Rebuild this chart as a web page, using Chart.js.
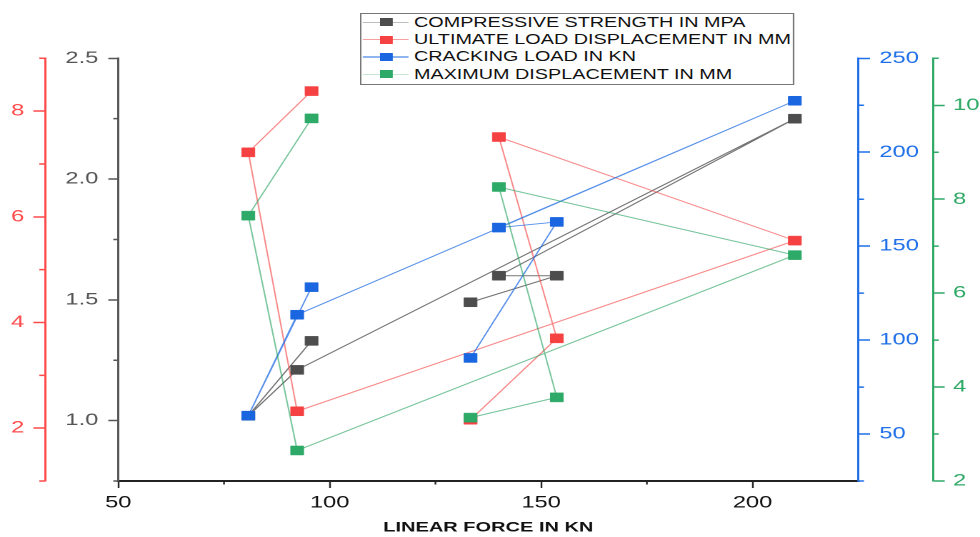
<!DOCTYPE html>
<html>
<head>
<meta charset="utf-8">
<script src="https://cdn.jsdelivr.net/npm/chart.js@4.4.1/dist/chart.umd.min.js"></script>
<style>
html, body { margin: 0; padding: 0; background: #fff; }
/* the source picture is stretched sideways, so the chart is drawn narrow and widened */
#wrap { position: relative; width: 686px; height: 537px; transform: scaleX(1.4286); transform-origin: 0 0; }
#legend { position: absolute; left: 252px; top: 13px; width: 302px; height: 70px; border: 1px solid #777; background: #fff;
  font-family: 'Liberation Sans', Arial, sans-serif; font-size: 13.85px; color: #111; }
.row { position: absolute; left: 0; width: 100%; height: 17.4px; }
.row .ln { position: absolute; left: 1px; width: 32px; height: 1.5px; top: 8px; }
.row .mk { position: absolute; left: 12.5px; width: 9px; height: 8px; top: 4.8px; }
.row .tx { position: absolute; left: 36.8px; top: 0; line-height: 17.4px; white-space: nowrap; }
</style>
</head>
<body>
<div id="wrap">
  <canvas id="grafico" width="686" height="537"></canvas>
  <div id="legend"></div>
</div>
<script>
// ===========================
// Dados
// ===========================
const linearForce   = [95.7, 80.75, 92.3, 210, 140, 153.7, 133.3];
const compStrength  = [1.33, 1.02, 1.21, 2.25, 1.60, 1.60, 1.49];
const ultimateDisp  = [8.38, 7.22, 2.32, 5.55, 7.51, 3.70, 2.16];
const crackingLoad  = [128.2, 59.8, 113.5, 227.4, 159.9, 162.9, 90.5];
const maximumDisp   = [9.72, 7.65, 2.65, 6.81, 8.26, 3.78, 3.35];

const seriesNames = [
    "COMPRESSIVE STRENGTH IN MPA",
    "ULTIMATE LOAD DISPLACEMENT IN MM",
    "CRACKING LOAD IN KN",
    "MAXIMUM DISPLACEMENT IN MM"
];

const xTicks     = [50, 100, 150, 200];
const blackTicks = [1.0, 1.5, 2.0, 2.5];
const redTicks   = [2, 4, 6, 8];
const blueTicks  = [50, 100, 150, 200, 250];
const greenTicks = [2, 4, 6, 8, 10];

const xMinor     = [75, 125, 175];
const blackMinor = [0.75, 1.25, 1.75, 2.25];
const redMinor   = [1, 3, 5, 7, 9];
const blueMinor  = [25, 75, 125, 175, 225];
const greenMinor = [3, 5, 7, 9, 11];

// ===========================
// Cores
// ===========================
const corPreto = '#4d4d4d', corVermelho = '#f54141', corAzul = '#1a66e0', corVerde = '#2eaa68';
const eixoPreto = '#555555', eixoVermelho = '#ff4a4a', eixoAzul = '#1e6fe8', eixoVerde = '#2ea865';
const linhaLegenda = ['#bdbdbd', '#f7a0a0', '#8fb5f0', '#c8e8d4'];
const FONTE = "'Liberation Sans', Arial, sans-serif";

function pontos(ys) {
    return linearForce.map((x, i) => ({ x: x, y: ys[i] }));
}

function serie(label, ys, eixo, cor, linha, ordem) {
    return {
        label: label,
        data: pontos(ys),
        yAxisID: eixo,
        showLine: true,
        borderColor: linha,
        borderWidth: 1,
        backgroundColor: cor,
        pointStyle: 'rect',
        pointRadius: 6.4,
        pointBackgroundColor: cor,
        pointBorderColor: cor,
        pointBorderWidth: 0.5,
        order: ordem
    };
}

function eixoY(pos, peso, min, max, tickVals, cor, largura, tickLen, pad, fmt) {
    return {
        type: 'linear',
        position: pos,
        weight: peso,
        min: min,
        max: max,
        afterBuildTicks: s => { s.ticks = tickVals.map(v => ({ value: v })); },
        afterFit: s => { s.width = largura; },
        ticks: {
            color: cor,
            font: { size: 16.6, family: FONTE },
            padding: pad,
            autoSkip: false,
            callback: fmt
        },
        grid: { drawOnChartArea: false, color: cor, tickLength: tickLen, tickWidth: 1.5 },
        border: { color: cor, width: 1.5 }
    };
}

// ===========================
// Ticks menores
// ===========================
const minorDefs = {
    x:      { values: xMinor,     color: '#222',       len: 3.5, w: 1.2 },
    yBlack: { values: blackMinor, color: eixoPreto,    len: 3.5, w: 1.5 },
    yRed:   { values: redMinor,   color: eixoVermelho, len: 4,   w: 1.5 },
    yBlue:  { values: blueMinor,  color: eixoAzul,     len: 4,   w: 1.5 },
    yGreen: { values: greenMinor, color: eixoVerde,    len: 4,   w: 1.5 }
};

const minorTicks = {
    id: 'minorTicks',
    afterDraw(chart) {
        const ctx = chart.ctx;
        ctx.save();
        for (const id in minorDefs) {
            const s = chart.scales[id];
            const d = minorDefs[id];
            ctx.strokeStyle = d.color;
            ctx.lineWidth = d.w;
            ctx.beginPath();
            d.values.forEach(v => {
                const p = s.getPixelForValue(v);
                if (s.isHorizontal()) {
                    ctx.moveTo(p, s.top); ctx.lineTo(p, s.top + d.len);
                } else if (s.position === 'left') {
                    ctx.moveTo(s.right, p); ctx.lineTo(s.right - d.len, p);
                } else {
                    ctx.moveTo(s.left, p); ctx.lineTo(s.left + d.len, p);
                }
            });
            ctx.stroke();
        }
        ctx.restore();
    }
};

// ===========================
// Gráfico
// ===========================
const ctx = document.getElementById('grafico').getContext('2d');

new Chart(ctx, {
    type: 'scatter',
    data: {
        datasets: [
            serie(seriesNames[0], compStrength, 'yBlack', corPreto,    'rgba(70,70,70,0.75)',    3),
            serie(seriesNames[1], ultimateDisp, 'yRed',   corVermelho, 'rgba(245,70,70,0.65)',   2),
            serie(seriesNames[2], crackingLoad, 'yBlue',  corAzul,     'rgba(30,105,225,0.75)',  1),
            serie(seriesNames[3], maximumDisp,  'yGreen', corVerde,    'rgba(45,165,100,0.65)',  0)
        ]
    },
    options: {
        responsive: false,
        animation: false,
        devicePixelRatio: 2,
        layout: { padding: { top: 58.3, left: 0, right: 0, bottom: 0 } },
        plugins: {
            legend: { display: false },
            tooltip: { enabled: false }
        },
        scales: {
            x: {
                type: 'linear',
                position: 'bottom',
                min: 50,
                max: 225,
                afterBuildTicks: s => { s.ticks = xTicks.map(v => ({ value: v })); },
                afterFit: s => { s.height = 56; },
                ticks: { color: '#111', font: { size: 16.6, family: FONTE }, padding: 5, autoSkip: false, maxRotation: 0 },
                grid: { drawOnChartArea: false, color: '#222', tickLength: 7, tickWidth: 1.2 },
                border: { color: '#222', width: 2 },
                title: {
                    display: true,
                    text: 'LINEAR FORCE IN KN',
                    color: '#111',
                    font: { size: 14, weight: 'bold', family: FONTE },
                    padding: { top: 4, bottom: 1 }
                }
            },
            yBlack: eixoY('left', 0, 0.75, 2.5, blackTicks, eixoPreto, 51.3, 7, 7, v => v.toFixed(1)),
            yRed:   eixoY('left', 1, 1, 9, redTicks, eixoVermelho, 31.5, 8.2, 6.3, v => v),
            yBlue:  eixoY('right', 0, 25, 250, blueTicks, eixoAzul, 52.3, 8.2, 6.5, v => v),
            yGreen: eixoY('right', 1, 2, 11, greenTicks, eixoVerde, 32.9, 8.2, 5.8, v => v)
        }
    },
    plugins: [minorTicks]
});

// ===========================
// Legenda
// ===========================
const legenda = document.getElementById('legend');
const coresMarca = [corPreto, corVermelho, corAzul, corVerde];

seriesNames.forEach((nome, i) => {
    const row = document.createElement('div');
    row.className = 'row';
    row.style.top = (i * 17.4 - 0.5) + 'px';
    row.innerHTML =
        `<span class="ln" style="background:${linhaLegenda[i]}"></span>` +
        `<span class="mk" style="background:${coresMarca[i]}"></span>` +
        `<span class="tx">${nome}</span>`;
    legenda.appendChild(row);
});
</script>
</body>
</html>
